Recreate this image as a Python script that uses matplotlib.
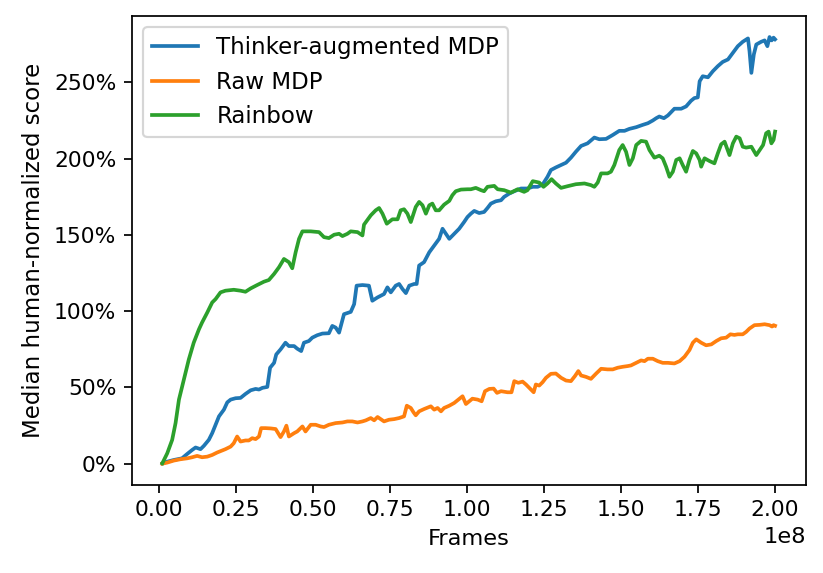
import numpy as np
import matplotlib
matplotlib.use("Agg")
import matplotlib.pyplot as plt
from matplotlib.ticker import PercentFormatter

# x in millions of frames, y in percent
thinker_x = [1.0, 2.6, 4.7, 7.4, 9.1, 10.7, 11.8, 13.4, 14.5, 16.1, 17.2, 18.3, 19.4, 21.0, 22.1,
             23.2, 24.8, 26.4, 28.0, 29.7, 31.3, 32.4, 33.5, 35.1, 36.0, 37.3, 38.0, 39.4, 41.0,
             42.1, 43.8, 44.8, 46.1, 47.0, 48.6, 49.7, 51.3, 53.0, 55.1, 56.2, 57.3, 58.4, 60.0,
             62.2, 63.3, 64.1, 66.0, 68.1, 69.2, 70.9, 73.0, 74.1, 75.2, 76.8, 77.9, 79.0, 80.1,
             81.2, 82.8, 83.6, 84.4, 86.0, 87.7, 89.3, 90.9, 92.0, 93.1, 94.2, 95.8, 97.4, 99.0,
             100.1, 101.2, 102.3, 103.9, 105.5, 106.6, 107.7, 109.3, 111.0, 112.0, 113.7, 115.3,
             117.5, 119.6, 121.3, 122.9, 124.5, 126.1, 127.2, 128.8, 130.5, 132.1, 133.7, 135.3,
             137.0, 139.1, 141.3, 142.9, 145.1, 147.3, 149.4, 151.1, 152.7, 154.9, 157.0, 158.7,
             160.3, 161.4, 162.4, 163.9, 165.2, 167.3, 169.5, 171.1, 172.7, 173.8, 174.9, 175.5,
             176.5, 178.2, 179.8, 181.4, 183.0, 184.7, 186.3, 187.9, 189.5, 191.2, 191.7, 192.3,
             193.1, 193.9, 195.5, 196.6, 197.5, 198.2, 198.9, 199.5, 200.0]
thinker_y = [0.2, 1.3, 2.4, 3.5, 6.4, 9.0, 10.6, 9.5, 11.7, 15.6, 20.0, 25.5, 31.0, 35.4, 40.2,
             42.0, 42.9, 43.1, 45.7, 48.1, 49.0, 48.6, 49.7, 50.3, 62.9, 66.1, 71.6, 74.9, 79.3,
             77.1, 77.1, 75.4, 73.8, 79.3, 80.4, 82.6, 84.2, 85.3, 85.5, 90.3, 89.2, 85.9, 98.0,
             99.5, 104.6, 116.7, 117.1, 116.7, 106.8, 109.0, 111.2, 115.6, 112.3, 116.7, 117.8,
             114.5, 111.8, 116.7, 117.8, 117.8, 129.9, 132.1, 138.6, 143.0, 147.4, 154.0, 150.7,
             147.4, 150.7, 154.0, 158.4, 161.7, 163.9, 165.7, 164.3, 165.0, 167.6, 170.5, 172.0,
             172.7, 174.9, 177.1, 178.6, 180.4, 180.4, 181.5, 181.5, 183.0, 188.1, 192.5, 194.2,
             195.8, 197.3, 200.6, 204.5, 208.3, 210.0, 213.8, 212.7, 212.9, 215.5, 218.2, 218.2,
             219.5, 220.6, 222.1, 223.2, 225.0, 226.5, 227.6, 226.5, 228.3, 232.7, 232.7, 234.2,
             237.9, 239.7, 240.1, 250.7, 254.0, 253.3, 257.3, 260.6, 263.4, 265.0, 269.3, 273.7,
             276.6, 278.8, 270.4, 256.2, 268.3, 274.8, 276.6, 277.5, 273.7, 279.7, 277.5, 279.3,
             278.2]

raw_x = [1.0, 2.6, 4.7, 6.9, 9.1, 10.7, 12.3, 13.9, 15.6, 17.2, 18.8, 19.9, 21.5, 23.2, 24.2,
         25.3, 26.4, 28.0, 29.1, 30.2, 31.3, 32.4, 33.1, 34.5, 36.2, 37.8, 39.4, 40.5, 41.3,
         42.1, 43.8, 44.8, 46.5, 47.5, 49.2, 50.8, 52.4, 53.5, 55.1, 57.3, 59.5, 61.1, 62.7,
         64.4, 66.0, 67.1, 68.7, 69.8, 70.9, 71.9, 73.0, 74.6, 76.3, 77.9, 79.5, 80.4, 81.7,
         82.6, 83.3, 84.4, 86.0, 88.2, 89.3, 90.4, 91.5, 92.5, 94.2, 95.8, 97.4, 98.5, 99.6,
         101.7, 103.4, 104.7, 105.8, 107.2, 108.6, 109.7, 111.0, 113.1, 114.4, 115.3, 116.6,
         118.0, 119.1, 120.7, 121.6, 122.3, 123.4, 124.5, 125.6, 127.2, 128.8, 130.5, 132.1,
         133.7, 135.0, 136.1, 137.0, 138.6, 140.2, 141.9, 143.5, 145.6, 147.3, 148.9, 150.5,
         152.2, 153.2, 154.9, 156.5, 157.6, 158.7, 160.3, 161.9, 163.5, 165.2, 167.3, 169.0,
         170.6, 172.2, 173.3, 174.4, 176.0, 177.6, 179.3, 180.9, 182.5, 184.1, 185.5, 186.8,
         187.9, 189.5, 190.6, 191.7, 193.3, 195.0, 196.6, 198.2, 199.0, 199.5, 200.0]
raw_y = [0.0, 0.7, 2.0, 2.9, 3.5, 4.2, 5.1, 4.2, 4.6, 5.7, 7.3, 8.2, 9.5, 11.2, 13.4,
         17.8, 14.5, 15.2, 15.2, 16.7, 16.1, 17.8, 23.3, 23.3, 23.1, 22.7, 17.4, 21.1, 24.9,
         17.8, 20.0, 21.1, 24.4, 21.1, 25.5, 25.5, 24.4, 24.0, 25.5, 26.6, 27.0, 27.7, 27.7,
         27.0, 27.7, 28.4, 29.9, 28.4, 30.6, 29.2, 27.7, 28.8, 29.2, 29.9, 31.0, 38.0, 36.5,
         33.6, 31.7, 34.3, 35.8, 37.6, 35.4, 36.5, 34.3, 36.5, 38.0, 39.8, 42.4, 44.2, 39.1,
         42.6, 42.0, 40.9, 47.5, 49.0, 49.2, 46.4, 47.5, 46.8, 46.8, 54.1, 53.0,
         53.8, 51.9, 48.6, 46.8, 51.9, 51.2, 53.4, 56.3, 58.9, 59.1, 56.3, 54.5,
         54.1, 57.4, 60.7, 57.8, 56.9, 55.6, 59.1, 62.2, 61.8, 61.8, 62.9, 63.5,
         64.0, 64.4, 66.1, 67.7, 67.2, 68.8, 68.8, 67.2, 66.1, 66.1, 65.7, 67.2,
         70.1, 74.5, 79.3, 81.5, 79.3, 77.6, 78.2, 80.4, 82.2, 82.6, 84.8, 84.4,
         84.8, 84.8, 86.4, 88.6, 90.8, 91.0, 91.4, 90.8, 89.9, 90.8, 90.4]

rainbow_x = [1.0, 2.6, 4.2, 5.3, 6.4, 8.0, 9.6, 11.2, 12.9, 13.9, 15.6, 17.2, 18.3, 19.9, 21.5,
             24.2, 26.4, 28.0, 29.7, 31.8, 34.0, 35.6, 37.3, 38.9, 40.5, 42.1, 43.2, 44.3, 45.4,
             46.5, 49.2, 51.9, 53.5, 55.1, 56.8, 58.4, 59.5, 61.1, 62.2, 64.4, 66.0, 66.5, 68.7,
             70.3, 71.4, 72.5, 73.9, 75.7, 77.4, 78.4, 79.5, 80.6, 81.7, 83.3, 84.4, 85.5, 86.6,
             87.7, 88.7, 89.8, 90.9, 92.5, 94.2, 95.2, 96.3, 98.0, 100.1, 101.2, 102.8, 104.5,
             105.5, 106.6, 108.8, 109.9, 112.0, 114.2, 116.4, 118.5, 119.6, 121.3, 123.4, 124.8,
             126.1, 127.4, 128.8, 130.5, 132.6, 135.3, 138.1, 140.2, 141.3, 142.4, 143.5, 145.6,
             146.7, 147.8, 149.4, 150.5, 151.6, 152.7, 153.8, 154.9, 156.5, 158.1, 159.2, 160.8,
             162.4, 163.5, 164.6, 165.7, 166.8, 167.9, 169.0, 170.0, 171.1, 172.2, 173.3, 174.4,
             175.5, 176.0, 177.1, 178.7, 180.3, 181.4, 182.5, 183.6, 185.2, 186.3, 187.4, 188.5,
             189.5, 190.6, 192.3, 193.9, 195.0, 196.1, 197.1, 197.9, 198.8, 199.5, 200.0]
rainbow_y = [0.2, 6.8, 15.6, 26.6, 42.0, 55.2, 68.3, 79.3, 88.1, 92.5, 99.1, 105.7, 107.9, 112.3,
             113.4, 114.0, 113.4, 112.7, 114.9, 117.1, 119.3, 120.4, 124.4, 128.8, 134.2, 132.1,
             128.1, 138.6, 147.4, 152.3, 152.3, 151.8, 148.5, 147.9, 150.1, 150.7, 149.2, 150.7,
             152.3, 151.8, 149.6, 156.7, 162.8, 166.1, 167.6, 163.9, 157.3, 160.2, 160.2, 166.1,
             166.8, 163.9, 158.4, 168.3, 171.6, 169.4, 163.9, 169.4, 170.5, 166.1, 166.1, 169.8,
             172.3, 176.0, 178.6, 179.7, 179.9, 179.9, 180.8, 179.3, 178.6, 181.5, 182.1, 179.9,
             179.3, 177.7, 179.9, 178.2, 179.3, 185.2, 184.3, 181.5, 183.7, 186.5, 183.7, 180.8,
             181.9, 183.2, 183.7, 182.6, 181.5, 184.3, 190.3, 190.3, 191.4, 195.8, 205.6, 208.9,
             204.5, 195.8, 200.2, 208.9, 211.6, 211.1, 205.6, 200.6, 201.9, 200.2, 194.7, 188.1,
             191.4, 199.1, 200.2, 195.8, 191.4, 199.1, 205.0, 203.4, 199.1, 194.7, 200.2, 198.4,
             196.9, 203.4, 209.4, 211.1, 202.3, 210.0, 214.4, 213.3, 207.8, 207.2, 207.8, 202.3,
             205.6, 208.9, 216.6, 217.7, 210.0, 212.2, 217.7]

series_labels = ["Thinker-augmented MDP", "Raw MDP", "Rainbow"]

dpi = 157
fig = plt.figure(figsize=(823 / dpi, 573 / dpi), dpi=dpi)
ax = fig.add_axes([0.16, 0.1536, 0.819, 0.819])

for xs, ys, lab in [(thinker_x, thinker_y, series_labels[0]),
                    (raw_x, raw_y, series_labels[1]),
                    (rainbow_x, rainbow_y, series_labels[2])]:
    ax.plot(np.array(xs) * 1e6, ys, label=lab, linewidth=1.7)

ax.yaxis.set_major_formatter(PercentFormatter(xmax=100, decimals=0))
ax.set_yticks([0, 50, 100, 150, 200, 250])
ax.tick_params(labelsize=10)
ax.xaxis.get_offset_text().set_fontsize(10.3)
ax.set_xlabel("Frames", fontsize=10.3)
ax.set_ylabel("Median human-normalized score", fontsize=10.5)
ax.legend(loc="upper left", fontsize=10.5)

fig.savefig("out.png", dpi=dpi)
